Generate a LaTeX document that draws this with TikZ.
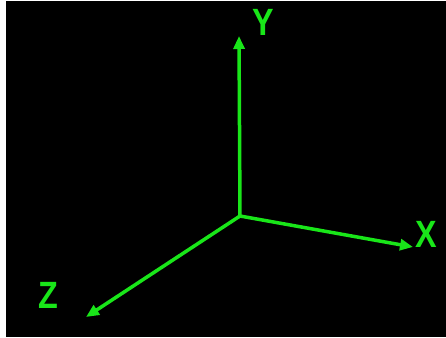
\documentclass[tikz,border=0pt]{standalone}
\usepackage{fontspec}
\setmainfont{Liberation Sans}
\usetikzlibrary{arrows.meta}
\definecolor{axgreen}{RGB}{25,230,25}
\begin{document}
\begin{tikzpicture}[x=1pt,y=-1pt,
  axis/.style={draw=axgreen,line width=3.5pt,-{Triangle[length=13pt,width=11pt]}},
  lbl/.style={text=axgreen,font=\fontsize{38}{38}\selectfont\bfseries,inner sep=0pt}]
\useasboundingbox (0,0) rectangle (446,337);
\fill[white] (0,0) rectangle (446,337);
\fill[black] (6,1) rectangle (446,337);
\coordinate (o) at (240,216);
\coordinate (yt) at (239,36);
\coordinate (xt) at (413,247);
\coordinate (zt) at (86,317);
\draw[axis] (o) -- (yt);
\draw[axis] (o) -- (xt);
\draw[axis] (o) -- (zt);
\node[lbl,xscale=0.85] (ly) at (263,22) {Y};
\node[lbl,xscale=0.85] (lx) at (426,234) {X};
\node[lbl,xscale=0.85] (lz) at (48,295) {Z};
\end{tikzpicture}
\end{document}
